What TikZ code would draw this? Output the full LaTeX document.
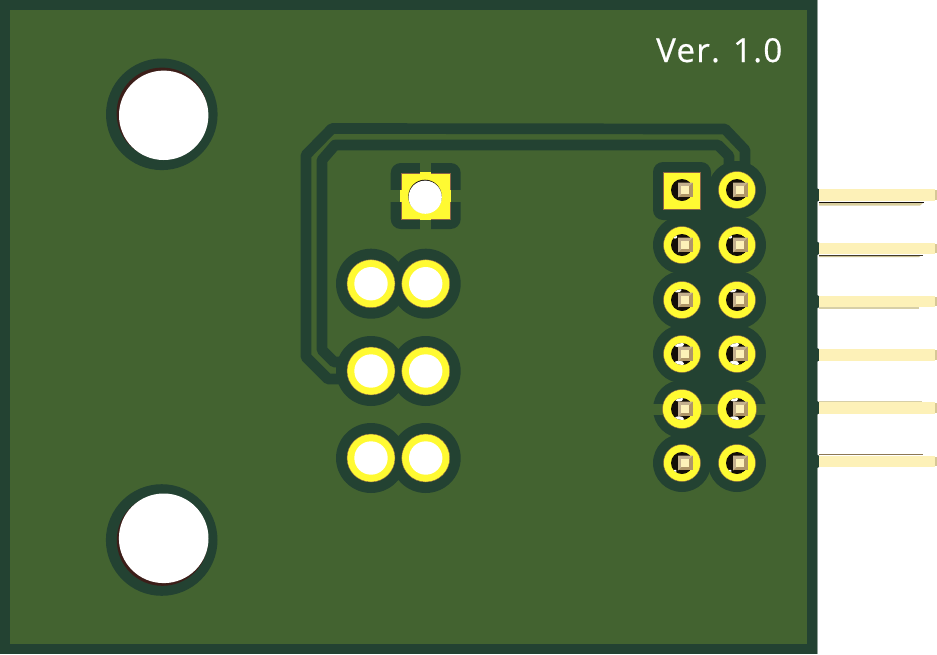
\documentclass[tikz,border=0pt]{standalone}
\usepackage{fontspec}
\newfontfamily\silkfont[LetterSpace=4,FakeBold=0.5]{Open Sans}
\definecolor{boardgreen}{RGB}{67,99,48}
\definecolor{maskdark}{RGB}{35,66,50}
\definecolor{padyellow}{RGB}{255,250,50}
\definecolor{padedge}{RGB}{140,100,70}
\definecolor{pinlight}{RGB}{253,241,184}
\definecolor{pintan}{RGB}{176,150,104}
\definecolor{pinend}{RGB}{215,200,150}
\definecolor{drilldark}{RGB}{20,14,8}
\definecolor{crescent}{RGB}{60,30,25}
\tikzset{
  track/.style={draw=maskdark,line width=10.7pt,line join=round},
  maskfill/.style={fill=maskdark},
  padring/.style={fill=padyellow,draw=padedge,line width=0.4pt},
  hole/.style={fill=white},
  pinbody/.style={fill=pinlight},
}
\begin{document}
\begin{tikzpicture}[x=1pt,y=-1pt]
\useasboundingbox (0,0) rectangle (937,654);
% board
\fill[maskdark] (0,0) rectangle (817,654);
\fill[boardgreen] (10,10) rectangle (807,644);
\draw[line width=0.6pt,draw=maskdark!50!white] (817.3,0) -- (817.3,654);
% right-angle header pins
\foreach \yt/\yb in {189.3/200.7,242.7/254,296/307.3,349/360.7,402/413.5,455.7/467}{
  \fill[maskdark] (817,\yt-1) -- (819,\yt) -- (819,\yb) -- (817,\yb+1) -- cycle;
  \fill[pinbody] (819,\yt) rectangle (935,\yb);
  \fill[pinend] (935,\yt+1) rectangle (936.6,\yb-1);
}
\fill[pinlight!85!black] (819,203) -- (923,203) -- (920,205.6) -- (819,205.6) -- cycle;
\fill[drilldark] (819,201.6) rectangle (924,202.6);
\fill[pinlight!80!black] (819,255.6) -- (921,255.6) -- (919,257) -- (819,257) -- cycle;
\fill[drilldark!80!pinlight] (819,254.6) rectangle (923,255.5);
\fill[pinlight!70!gray] (819,307.3) rectangle (919,308.6);
\fill[pinlight!70!gray] (819,401) rectangle (922,402);
\fill[pintan!80!black] (819,454.2) rectangle (923,455.2);
% mounting holes
\fill[maskdark] (161.8,114.3) circle (55.8);
\fill[crescent] (162.2,113.2) circle (45.6);
\fill[hole] (163.7,115.3) circle (44.7);
\fill[maskdark] (161.7,540) circle (55.8);
\fill[crescent] (162.4,540.2) circle (45.6);
\fill[hole] (163.7,538.3) circle (44.8);
% tracks
\draw[track] (745,190) -- (745,150) -- (725,129) -- (332,128.5) -- (306,155) -- (306,357) -- (328,379) -- (371,379);
\draw[track] (729,180) -- (729,156) -- (718,145) -- (335,145) -- (322,160) -- (322,350) -- (334,362) -- (371,362);
% left pad mask
\foreach \y in {283.7,371,458}{
  \foreach \x in {371,425.7}{ \fill[maskfill] (\x,\y) circle (35); }
}
% square pad mask with relief cross
\fill[maskfill,rounded corners=10pt] (390.7,163) rectangle (460.7,229);
\fill[boardgreen] (420,160) rectangle (431,232);
\fill[boardgreen] (388,190) rectangle (463,202);
\fill[padyellow] (420,172) rectangle (431,220);
\fill[padyellow] (400,190) rectangle (451,202);
\filldraw[padring] (401,173.5) rectangle (450,219);
\fill[padyellow] (420,172) rectangle (431,220);
\fill[padyellow] (400,190) rectangle (451,202);
\fill[drilldark] (425,196.4) circle (16.7);
\fill[hole] (425.2,197.2) circle (16.6);
% left round pads
\foreach \y in {283.7,371,458}{
  \foreach \x in {371,425.7}{
    \filldraw[padring] (\x,\y) circle (24);
    \fill[hole] (\x,\y) circle (16.7);
  }
}
% header mask
\foreach \y in {245,300,354,409,463}{
  \fill[maskfill] (682,\y) circle (29);
}
\foreach \y in {190,245,300,354,409,463}{
  \fill[maskfill] (737,\y) circle (29);
}
\fill[maskfill] (682,190) rectangle (737,463);
\fill[maskfill,rounded corners=10pt] (653,162) rectangle (711,220);
\fill[boardgreen] (645,403.5) rectangle (775,415);
% header pads
\filldraw[padring] (663.3,172) rectangle (700.5,209);
\foreach \y/\ry in {245/18.5,300/18.5,354/18.5,409/19.5,463/18.5}{
  \filldraw[padring] (682,\y) circle (\ry);
}
\foreach \y/\ry in {190/18.5,245/18.5,300/18.5,354/18.5,409/19.5,463/18.5}{
  \filldraw[padring] (737,\y) circle (\ry);
}
% drills, pins and glints
\foreach \x in {682,737}{
  \foreach \y/\ax/\ay/\rx/\ry/\bx/\by/\sx/\sy in {
    190/0/0/0/0/0/0/0/0,
    245/-7/-8/2.2/1.6/0/0/0/0,
    300/-5/-10/4.5/2.4/0/0/0/0,
    354/-3/-9.6/5/3/-3/9.6/5/3,
    409/-3/-10/4/2.6/-3/10/5/2.8,
    463/-7/8/1.8/1.4/0/0/0/0}{
    \begin{scope}
      \clip (\x,\y) circle (11);
      \fill[drilldark] (\x,\y) circle (11);
      \fill[white] (\x+\ax,\y+\ay) ellipse ({\rx} and {\ry});
      \fill[white] (\x+\bx,\y+\by) ellipse ({\sx} and {\sy});
    \end{scope}
    \fill[pintan] (\x-3.8,\y-7.4) rectangle (\x+10.8,\y+7.4);
    \fill[pintan!75!white] (\x-3.8,\y-7.4) -- (\x+10.8,\y-7.4) -- (\x+7.3,\y-4) -- (\x-0.3,\y-4) -- (\x-0.3,\y+4) -- (\x-3.8,\y+7.4) -- cycle;
    \fill[pinbody] (\x-0.7,\y-4.1) rectangle (\x+7.3,\y+3.9);
  }
}
% silkscreen
\node[anchor=base west,inner sep=0pt,text=white,font=\silkfont\fontsize{33}{33}\selectfont] (version) at (656,62) {Ver. 1.0};
\end{tikzpicture}
\end{document}
